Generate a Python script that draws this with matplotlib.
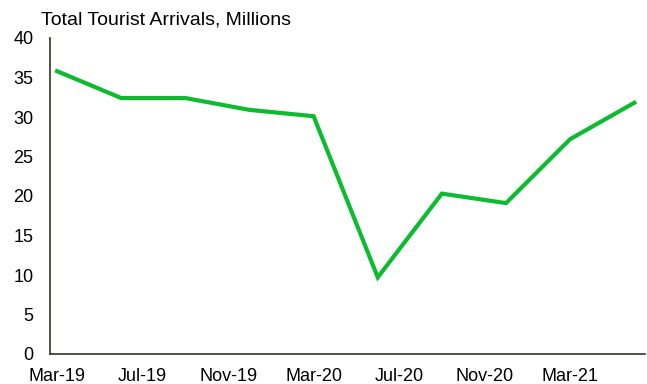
import matplotlib
matplotlib.use("Agg")
import matplotlib.pyplot as plt

# Quarterly tourist arrivals (millions), indexed by months since Mar-19
months = [0, 3, 6, 9, 12, 15, 18, 21, 24, 27]
arrivals = [35.8, 32.4, 32.4, 30.9, 30.1, 9.7, 20.3, 19.1, 27.2, 31.8]
tick_months = [0, 4, 8, 12, 16, 20, 24]
tick_labels = ["Mar-19", "Jul-19", "Nov-19", "Mar-20", "Jul-20", "Nov-20", "Mar-21"]
y_ticks = [0, 5, 10, 15, 20, 25, 30, 35, 40]

plt.rcParams["font.family"] = ["Liberation Sans", "DejaVu Sans"]

fig = plt.figure(figsize=(6.47, 3.84), dpi=100)
ax = fig.add_axes([50 / 647, 30 / 384, 595 / 647, 316 / 384])

ax.plot(months, arrivals, color="#0DBB2E", linewidth=3.0, solid_joinstyle="miter")

ax.set_xlim(-0.33, 27.5)
ax.set_ylim(0, 40)
ax.set_xticks(tick_months)
ax.set_xticklabels(tick_labels)
ax.set_yticks(y_ticks)
ax.tick_params(axis="both", length=0, labelsize=13, colors="black")
ax.tick_params(axis="x", pad=10)
ax.tick_params(axis="y", pad=12)

for side in ("top", "right"):
    ax.spines[side].set_visible(False)
for side in ("left", "bottom"):
    ax.spines[side].set_color("#333322")
    ax.spines[side].set_linewidth(1.2)

fig.text(41 / 647, 1 - 20 / 384, "Total Tourist Arrivals, Millions", fontsize=14,
         ha="left", va="center")

fig.savefig("out.png", dpi=100)
